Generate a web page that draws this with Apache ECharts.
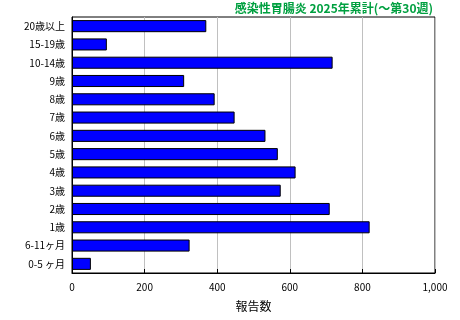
<!DOCTYPE html>
<html>
<head>
<meta charset="utf-8">
<script src="https://cdn.jsdelivr.net/npm/echarts@6/dist/echarts.min.js"></script>
<style>
html, body { margin: 0; padding: 0; background: #fff; }
#main { width: 460px; height: 320px; }
</style>
</head>
<body>
<div id="main"></div>
<script>
var ageGroups = ['20歳以上', '15-19歳', '10-14歳', '9歳', '8歳', '7歳', '6歳', '5歳', '4歳', '3歳', '2歳', '1歳', '6-11ヶ月', '0-5 ヶ月'];
var reports = [370, 96, 718, 309, 393, 448, 533, 567, 616, 575, 710, 820, 324, 52];
var xTicks = [0, 200, 400, 600, 800, 1000];

var chart = echarts.init(document.getElementById('main'));
var font = '"Noto Sans CJK JP", sans-serif';
chart.setOption({
  animation: false,
  title: {
    text: '感染性胃腸炎 2025年累計(～第30週)',
    right: 22,
    top: -3,
    textStyle: { color: '#00a040', fontSize: 12, fontWeight: 'bold', fontFamily: font }
  },
  grid: {
    left: 72, right: 25, top: 17, bottom: 47,
    show: true, borderColor: '#000', borderWidth: 1
  },
  xAxis: {
    type: 'value',
    min: xTicks[0],
    max: xTicks[xTicks.length - 1],
    interval: 200,
    name: '報告数',
    nameLocation: 'middle',
    nameGap: 27,
    nameTextStyle: { color: '#000', fontSize: 12, fontFamily: font },
    axisLine: { show: true, lineStyle: { color: '#000' } },
    axisTick: { show: true, inside: true, length: 4, lineStyle: { color: '#000' } },
    axisLabel: {
      color: '#000', fontSize: 10, fontFamily: font, margin: 9,
      formatter: function (v) { return v.toLocaleString('en-US'); }
    },
    splitLine: { show: true, lineStyle: { color: '#c0c0c0', width: 1 } }
  },
  yAxis: {
    type: 'category',
    data: ageGroups,
    inverse: true,
    axisLine: { show: true, lineStyle: { color: '#000' } },
    axisTick: { show: false },
    axisLabel: { color: '#000', fontSize: 10, fontFamily: font, margin: 7 }
  },
  series: [{
    type: 'bar',
    data: reports,
    barWidth: '66%',
    itemStyle: { color: '#0000ff', borderColor: '#000', borderWidth: 1 }
  }]
});
</script>
</body>
</html>
